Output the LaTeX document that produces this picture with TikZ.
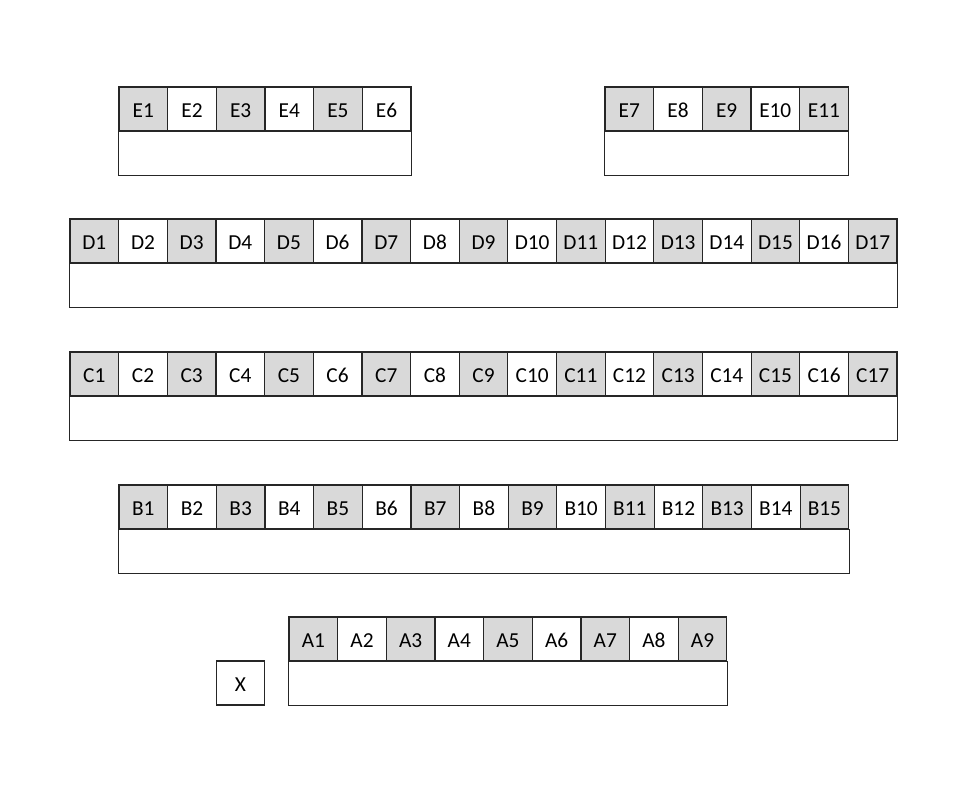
\documentclass[tikz,border=0pt]{standalone}
\usepackage{fontspec}
\setmainfont{Carlito}[Numbers=Lining]
\definecolor{cellgray}{RGB}{217,217,217}

\tikzset{
  cell/.style={draw=black!85, line width=0.9pt, inner sep=0pt,
    minimum width=36.49pt, minimum height=33pt,
    text height=12.6pt, text depth=0pt,
    font=\fontsize{16}{19}\selectfont},
  cell0/.style={cell, fill=white},
  cell1/.style={cell, fill=cellgray},
}

\begin{document}
\begin{tikzpicture}[x=0.75pt, y=-0.75pt]
      \useasboundingbox (0,0) rectangle (974,794);
      % rows of numbered cells, odd ones shaded, with an empty bar below
      \foreach \name/\xo/\yo/\first/\last in
          {E/119/87/1/6, E/605/87/7/11, D/70/219/1/17,
           C/70/352/1/17, B/119/485/1/15, A/289/617/1/9}{
        \foreach \i [evaluate=\i as \k using int(\i-\first),
                     evaluate=\i as \tone using {int(mod(\i,2))}] in {\first,...,\last}
          \node[cell\tone] (\name\i) at (\xo+\k*48.65+24.33, \yo+22) {\name\i};
        \draw[draw=black!85, line width=0.9pt]
          (\name\first.south west) rectangle ([yshift=-33pt]\name\last.south east);
      }
      \node[cell0] (X) at (240.5,683) {X};
\end{tikzpicture}
\end{document}
